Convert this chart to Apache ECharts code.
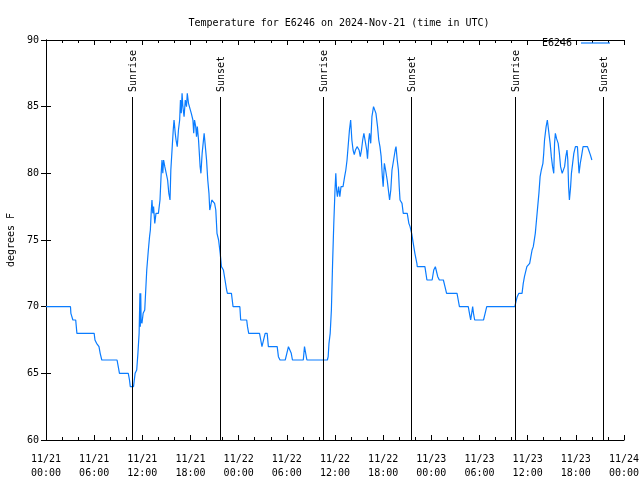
<!DOCTYPE html>
<html>
<head>
<meta charset="utf-8">
<script src="https://cdn.jsdelivr.net/npm/echarts@6/dist/echarts.min.js"></script>
<style>html,body{margin:0;padding:0;background:#fff}#c{width:640px;height:480px}</style>
</head>
<body>
<div id="c"></div>
<script>
// hours since 2024-11-21 00:00 UTC
const hours = [
0,3.05,3.1,3.3,3.35,3.7,3.85,6.0,6.1,6.3,6.6,6.75,6.95,8.85,9.0,9.15,10.25,10.4,10.5,10.9,11.1,11.3,11.45,11.6,
11.7,11.75,11.8,11.85,11.95,12.1,12.3,12.55,12.75,12.9,13.0,13.1,13.2,13.3,13.4,13.55,13.7,14.0,14.2,14.35,14.45,14.55,14.65,14.8,15.0,15.15,15.3,15.45,15.55,15.7,15.85,15.95,16.1,16.2,16.35,16.5,16.65,16.75,16.85,16.95,17.05,17.2,17.35,17.5,17.6,17.75,17.95,18.1,18.3,18.4,18.5,18.65,18.75,18.85,19.0,19.15,19.2,19.3,19.45,19.6,19.7,19.85,20.0,20.15,20.3,20.4,20.5,20.65,20.85,21.0,21.15,21.3,21.5,21.7,21.85,22.1,22.3,22.5,22.6,23.1,23.2,23.3,
24.15,24.25,25.0,25.1,25.25,26.6,26.75,26.9,27.1,27.3,27.55,27.7,28.8,28.95,29.15,29.8,30.0,30.2,30.4,30.55,30.7,32.05,32.2,32.3,32.5,35.05,35.15,35.25,35.4,35.55,35.7,35.85,36.0,36.1,36.2,36.3,36.45,36.6,36.75,37.0,37.2,37.35,37.5,37.7,37.8,37.95,38.1,38.25,38.4,38.55,38.75,39.0,39.15,39.3,39.45,39.6,39.8,39.95,40.05,40.2,40.3,40.45,40.6,40.8,41.0,41.1,41.3,41.45,41.6,41.75,41.9,42.0,42.15,42.3,42.5,42.65,42.8,42.95,43.1,43.3,43.5,43.6,43.75,43.9,44.0,44.1,44.35,44.5,45.0,45.2,45.35,45.55,45.75,45.95,46.2,46.25,47.2,47.35,47.45,
48.1,48.3,48.5,48.6,48.8,49.0,49.5,49.7,49.9,51.2,51.35,51.5,52.6,52.75,52.9,53.15,53.25,53.4,54.5,54.7,54.9,58.4,58.55,58.7,58.9,59.3,59.45,59.6,59.9,60.1,60.25,60.4,60.55,60.7,60.8,60.95,61.1,61.25,61.4,61.55,61.7,61.9,62.0,62.1,62.3,62.45,62.6,62.8,62.95,63.1,63.25,63.35,63.45,63.6,63.8,63.95,64.1,64.3,64.45,64.6,64.75,64.9,65.0,65.1,65.2,65.35,65.45,65.6,65.75,65.95,66.2,66.3,66.4,66.55,66.7,66.9,67.45,67.6,67.8,68.0
];
const tempF = [
70,70,69.5,69.5,69,69,68,68,67.5,67.25,67,66.5,66,66,65.5,65,65,64.5,64,64,65,65.25,66.5,68,
71,68.5,71,69,68.75,69.5,69.75,72.75,74.25,75.25,75.75,77,78,77,77.5,76.25,77,77,78,80,81,80,81,80.5,80.5,79.5,78.5,78,80.25,81.75,83.25,84,83,82.5,82,83.25,84,85.5,84.5,86,85,84.25,85.5,85,86,85.25,85.25,84.5,84,83,84,83.5,82.75,83.5,82.5,81,80.5,80,81.5,81.5,83,82,81,79.5,78.5,77.25,77.5,78,78,77.75,77.25,75.5,75,74,73,72.75,72,71.25,71,71,70.5,70,
70,69,69,68.5,68,68,67.5,67,67,68,68,67,67,66.25,66,66,66.5,67,67,66.5,66,66,67,67,66,66,66.25,67.25,68,69.75,73.25,76.25,78.75,80,78.75,78.25,79,78.25,79,79,79.75,80.25,81,81,83.25,84,82.5,81.75,81.4,81.75,82,81.75,81.25,81.75,82.5,83,83,81.75,81.1,82.5,83,82.25,84.25,85,85,84.5,83.5,82.5,82,81.25,79.75,79,80.75,80.25,79.5,78.75,78,78.75,80.25,81,81.75,82,81,80.25,79,78,77.75,77,77,76.25,76,75.5,74.75,74,73.25,73,73,72.4,72,
72,72.75,73,72.75,72.25,72,72,71.5,71,71,70.5,70,70,69.5,69,70,69.5,69,69,69.5,70,70,70.4,70.75,71,71,71.75,72.25,73,73,73.25,73.75,74.25,74.5,74.9,75.5,76.5,77.5,78.5,79.75,80.25,80.75,81.5,82.5,83.5,84,83.25,82.25,81.25,80.5,80,82.25,83,82.6,82.25,81.5,80.5,80,80,80.5,81.25,81.75,81,79,78,79,80,80.75,81.5,82,82,81,80,80.75,81.25,82,82,81.75,81.4,81
];
const sunHours = [10.67, 21.67, 34.54, 45.47, 58.46, 69.38];
const sunLabels = ['Sunrise', 'Sunset', 'Sunrise', 'Sunset', 'Sunrise', 'Sunset'];
const yTicks = [60, 65, 70, 75, 80, 85, 90];
const xMinH = 0, xMaxH = 72, xStepH = 6;
const seriesName = 'E6246';
const titleText = 'Temperature for E6246 on 2024-Nov-21 (time in UTC)';
const yName = 'degrees F';

const FONT = '"DejaVu Sans Mono", "Liberation Mono", monospace';
const pad = n => (n < 10 ? '0' : '') + n;
const fmtX = h => '11/' + (21 + Math.floor(h / 24)) + '\n' + pad(h % 24) + ':00';

const chart = echarts.init(document.getElementById('c'), null, {renderer: 'canvas'});
const axisCommon = {
  axisLine: {show: true, lineStyle: {color: '#000', width: 1}},
  splitLine: {show: false}
};
chart.setOption({
  animation: false,
  backgroundColor: '#fff',
  textStyle: {fontFamily: FONT},
  title: {
    text: titleText, left: 334, top: 13, textAlign: 'center',
    textStyle: {fontFamily: FONT, fontSize: 10, fontWeight: 'normal', color: '#000'}
  },
  legend: {
    data: [{name: seriesName, icon: 'rect'}],
    right: 30, top: 38, align: 'right', itemWidth: 29, itemHeight: 1.2, padding: 0,
    textStyle: {fontFamily: FONT, fontSize: 10, color: '#000', padding: [0, 4, 0, 0]},
    selectedMode: false
  },
  grid: {left: 46, right: 16, top: 40, bottom: 40, containLabel: false, outerBoundsMode: 'none'},
  xAxis: [{
    type: 'value', min: xMinH, max: xMaxH, interval: xStepH, position: 'bottom',
    ...axisCommon,
    axisTick: {show: true, inside: true, length: 5, lineStyle: {color: '#000'}},
    minorTick: {show: true, splitNumber: 3, length: 3, lineStyle: {color: '#000'}},
    axisLabel: {formatter: fmtX, fontFamily: FONT, fontSize: 10, color: '#000', margin: 12, lineHeight: 14, showMinLabel: true, showMaxLabel: true}
  }, {
    type: 'value', min: xMinH, max: xMaxH, interval: xStepH, position: 'top',
    ...axisCommon,
    axisTick: {show: true, inside: true, length: 5, lineStyle: {color: '#000'}},
    minorTick: {show: true, splitNumber: 3, length: 3, lineStyle: {color: '#000'}},
    axisLabel: {show: false}
  }],
  yAxis: [{
    type: 'value', min: yTicks[0], max: yTicks[yTicks.length - 1], interval: yTicks[1] - yTicks[0], position: 'left',
    ...axisCommon,
    name: yName, nameLocation: 'middle', nameRotate: 90, nameGap: 30,
    nameTextStyle: {fontFamily: FONT, fontSize: 10, color: '#000'},
    axisTick: {show: true, inside: true, length: 5, lineStyle: {color: '#000'}},
    axisLabel: {fontFamily: FONT, fontSize: 10, color: '#000', margin: 7}
  }, {
    type: 'value', min: yTicks[0], max: yTicks[yTicks.length - 1], interval: yTicks[1] - yTicks[0], position: 'right',
    ...axisCommon,
    axisTick: {show: true, inside: true, length: 5, lineStyle: {color: '#000'}},
    axisLabel: {show: false}
  }],
  series: [{
    name: seriesName, type: 'line', xAxisIndex: 0, yAxisIndex: 0,
    data: hours.map((h, i) => [h, tempF[i]]),
    showSymbol: false, symbol: 'none', smooth: false,
    lineStyle: {color: '#0a7cff', width: 1.2},
    itemStyle: {color: '#0a7cff'},
    silent: true, z: 2
  }, {
    name: 'sun', type: 'custom', xAxisIndex: 0, yAxisIndex: 0,
    data: sunHours.map(h => [h, yTicks[0]]),
    encode: {x: 0, y: 1},
    silent: true, z: 3,
    renderItem: function (params, api) {
      const p = api.coord([api.value(0), api.value(1)]);
      const cs = params.coordSys;
      const x = Math.round(p[0]) + 0.5;
      return {
        type: 'group',
        children: [{
          type: 'line',
          shape: {x1: x, y1: cs.y + 57, x2: x, y2: cs.y + cs.height},
          style: {stroke: '#000', lineWidth: 1}
        }, {
          type: 'text',
          x: x + 1, y: cs.y + 52,
          rotation: Math.PI / 2,
          style: {
            text: sunLabels[params.dataIndex], fill: '#000',
            font: '10px ' + FONT,
            align: 'left', verticalAlign: 'middle',
            textAlign: 'left', textVerticalAlign: 'middle'
          }
        }]
      };
    }
  }]
});
</script>
</body>
</html>
